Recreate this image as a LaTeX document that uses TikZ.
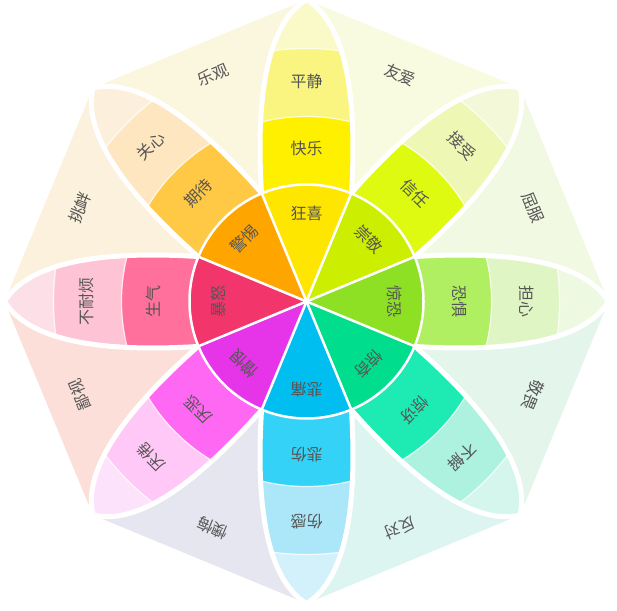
\documentclass[tikz,border=0pt]{standalone}
\usepackage{fontspec}
\setmainfont{Noto Sans CJK SC}
% petal colours: A inner, B middle, C outer, D tip
\definecolor{joyA}{HTML}{FFE600}\definecolor{joyB}{HTML}{FFF000}\definecolor{joyC}{HTML}{F9F580}\definecolor{joyD}{HTML}{FAFAC8}
\definecolor{truA}{HTML}{CCEE00}\definecolor{truB}{HTML}{DDFA10}\definecolor{truC}{HTML}{EEF8B4}\definecolor{truD}{HTML}{F3F9D8}
\definecolor{feaA}{HTML}{8EE025}\definecolor{feaB}{HTML}{B0EE62}\definecolor{feaC}{HTML}{DFF6C4}\definecolor{feaD}{HTML}{EEF9E2}
\definecolor{surA}{HTML}{00DD8C}\definecolor{surB}{HTML}{1EEAB4}\definecolor{surC}{HTML}{ADF2DF}\definecolor{surD}{HTML}{D4F6EC}
\definecolor{sadA}{HTML}{00BEF0}\definecolor{sadB}{HTML}{33D2F6}\definecolor{sadC}{HTML}{ABE7F8}\definecolor{sadD}{HTML}{D3F1FA}
\definecolor{disA}{HTML}{E635E8}\definecolor{disB}{HTML}{FF68F2}\definecolor{disC}{HTML}{FFC8F6}\definecolor{disD}{HTML}{FCE2FA}
\definecolor{angA}{HTML}{F2356B}\definecolor{angB}{HTML}{FF709C}\definecolor{angC}{HTML}{FFC3D6}\definecolor{angD}{HTML}{FDDFE8}
\definecolor{antA}{HTML}{FFA500}\definecolor{antB}{HTML}{FFC845}\definecolor{antC}{HTML}{FDE6C0}\definecolor{antD}{HTML}{FCF0DC}
% dyad colours
\definecolor{love}{HTML}{F8FBE0}\definecolor{subm}{HTML}{F1F9E2}\definecolor{awe}{HTML}{E4F5EC}\definecolor{disap}{HTML}{DDF5F1}
\definecolor{remo}{HTML}{E6E6F1}\definecolor{cont}{HTML}{FBDFD8}\definecolor{aggr}{HTML}{FBF1DC}\definecolor{opti}{HTML}{FBF6DE}
\definecolor{txt}{HTML}{555555}
\begin{document}
\begin{tikzpicture}[x=1pt,y=1pt,
    lbl/.style={text=txt,font=\fontsize{16}{16}\selectfont,inner sep=0pt},
    gap/.style={white,line width=5pt}]
    \useasboundingbox (0,0) rectangle (617,610);
    \coordinate (C) at (306.5,308.5);
    % Dyads
    \foreach \a/\c/\t [count=\i] in {67.5/love/友爱, 22.5/subm/屈服, -22.5/awe/敬畏, -67.5/disap/反对,
        -112.5/remo/懊悔, -157.5/cont/鄙视, 157.5/aggr/挑衅, 112.5/opti/乐观} {
        \fill[\c] (C) -- ([shift={(\a-22.5:302)}]C) -- ([shift={(\a+22.5:302)}]C) -- cycle;
        \node[lbl,rotate=\a-90] (d\i) at ([shift={(\a:245)}]C) {\t};
    }
    % Petals
    \foreach \a/\p in {90/joy,45/tru,0/fea,-45/sur,-90/sad,-135/dis,180/ang,135/ant} {
        \begin{scope}[shift={(C)},rotate=\a]
            \clip (0,0) -- (109,45) .. controls (190,50) and (275,44) .. (302,0)
                .. controls (275,-44) and (190,-50) .. (109,-45) -- cycle;
            \fill[\p D] (0,0) circle[radius=310pt];
            \fill[\p C] (0,0) circle[radius=253pt];
            \fill[\p B] (0,0) circle[radius=185pt];
            \draw[white,opacity=.8,line width=1.2pt] (0,0) circle[radius=253pt] (0,0) circle[radius=185pt];
        \end{scope}
    }
    \foreach \a in {90,45,...,-225} {
        \draw[gap,shift={(C)},rotate=\a] (109,45) .. controls (190,50) and (275,44) .. (302,0)
            .. controls (275,-44) and (190,-50) .. (109,-45);
    }
    % Inner ring
    \foreach \a/\p in {90/joy,45/tru,0/fea,-45/sur,-90/sad,-135/dis,180/ang,135/ant} {
        \fill[\p A,shift={(C)},rotate=\a] (0,0) -- (-22.5:117) arc[start angle=-22.5,end angle=22.5,radius=117pt] -- cycle;
    }
    \foreach \a in {22.5,67.5,...,337.5} {
        \draw[white,line width=2.5pt] (C) -- ([shift={(\a:117)}]C);
    }
    \draw[white,line width=2.5pt] (C) circle[radius=117pt];
    % Labels
    \foreach \a/\ti/\tm/\to [count=\i] in {90/狂喜/快乐/平静, 45/崇敬/信任/接受, 0/惊恐/恐惧/担心,
        -45/惊奇/惊讶/不解, -90/悲痛/悲伤/伤感, -135/憎恨/厌恶/厌倦, 180/暴怒/生气/不耐烦, 135/警惕/期待/关心} {
        \node[lbl,rotate=\a-90] (a\i) at ([shift={(\a:88)}]C) {\ti};
        \node[lbl,rotate=\a-90] (b\i) at ([shift={(\a:153)}]C) {\tm};
        \node[lbl,rotate=\a-90] (c\i) at ([shift={(\a:220)}]C) {\to};
    }
\end{tikzpicture}
\end{document}
